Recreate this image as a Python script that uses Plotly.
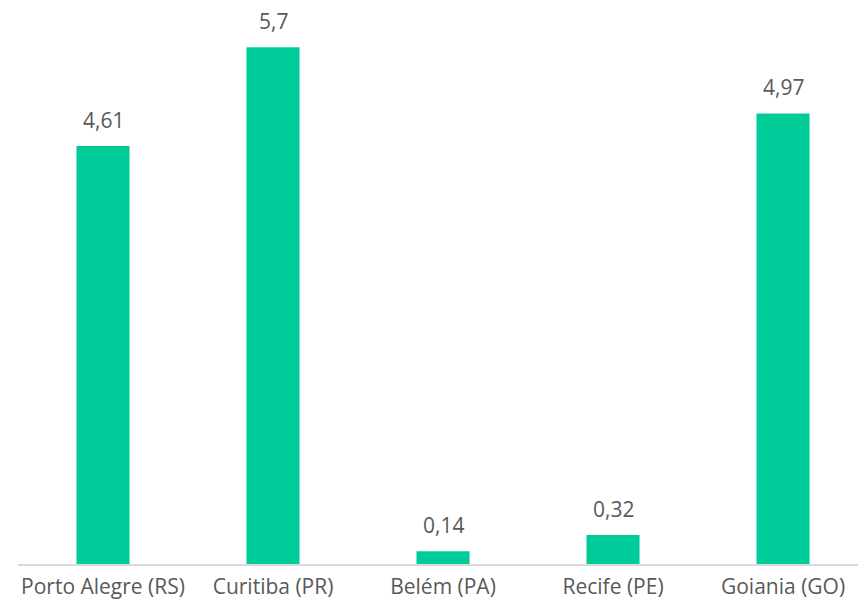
import plotly.graph_objects as go

categories = ["Porto Alegre (RS)", "Curitiba (PR)", "Belém (PA)", "Recife (PE)", "Goiania (GO)"]
values = [4.61, 5.7, 0.14, 0.32, 4.97]
labels = ["4,61", "5,7", "0,14", "0,32", "4,97"]

font_family = "Open Sans, Lato, sans-serif"
text_color = "#595959"

fig = go.Figure()
fig.add_trace(go.Bar(
    x=list(range(len(categories))), y=values,
    marker=dict(color="#00CC99", line=dict(width=0)),
    width=0.312,
))
for i, (v, t) in enumerate(zip(values, labels)):
    fig.add_annotation(x=i, y=v, text=t, showarrow=False, yanchor="bottom",
                       yshift=10, font=dict(family=font_family, size=21, color=text_color))

fig.update_layout(
    width=858, height=609,
    margin=dict(l=18, r=0, t=0, b=45),
    plot_bgcolor="white", paper_bgcolor="white",
    showlegend=False,
    xaxis=dict(range=[-0.5, 4.441], tickmode="array", tickvals=list(range(len(categories))),
               ticktext=categories, showgrid=False, zeroline=False,
               showline=True, linecolor="#D9D9D9", linewidth=2, ticks="",
               ticklabelstandoff=3,
               tickfont=dict(family=font_family, size=21, color=text_color)),
    yaxis=dict(range=[0, 6.222], visible=False, showgrid=False, zeroline=False),
)
fig.write_html("out.html")
